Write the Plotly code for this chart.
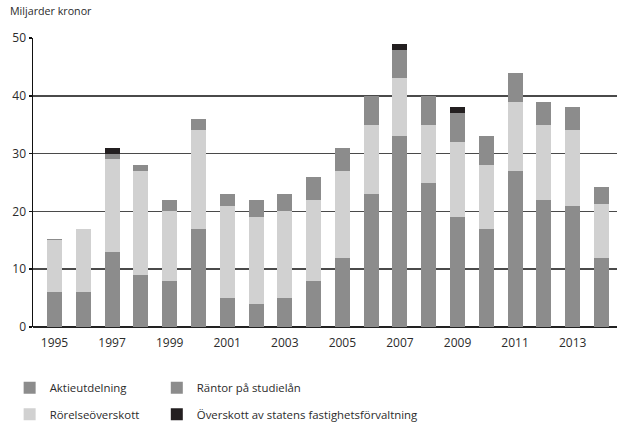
import plotly.graph_objects as go

years = list(range(1995, 2015))
aktieutdelning = [6, 6, 13, 9, 8, 17, 5, 4, 5, 8, 12, 23, 33, 25, 19, 17, 27, 22, 21, 12]
rorelseoverskott = [9, 11, 16, 18, 12, 17, 16, 15, 15, 14, 15, 12, 10, 10, 13, 11, 12, 13, 13, 9.3]
rantor = [0.2, 0, 1, 1, 2, 2, 2, 3, 3, 4, 4, 5, 5, 5, 5, 5, 5, 4, 4, 2.9]
fastighet = [0, 0, 1, 0, 0, 0, 0, 0, 0, 0, 0, 0, 1, 0, 1, 0, 0, 0, 0, 0]
tick_years = [1995, 1997, 1999, 2001, 2003, 2005, 2007, 2009, 2011, 2013]

FONT = "Open Sans"
TXT = "#2b2b2b"

series = [
    ("Aktieutdelning", aktieutdelning, "#8c8c8c", "legend"),
    ("Rörelseöverskott", rorelseoverskott, "#d1d1d1", "legend"),
    ("Räntor på studielån", rantor, "#8c8c8c", "legend2"),
    ("Överskott av statens fastighetsförvaltning", fastighet, "#231f20", "legend2"),
]

fig = go.Figure()
for i, (name, vals, col, lg) in enumerate(series):
    fig.add_trace(go.Bar(
        x=years, y=vals, name=name, marker=dict(color=col, line=dict(width=0)),
        width=0.52, legend=lg, legendgroup=f"g{i}",
    ))

legend_common = dict(
    orientation="v", font=dict(family=FONT, size=11.4, color=TXT),
    bgcolor="rgba(0,0,0,0)", tracegroupgap=7.5, itemclick=False,
    yanchor="top", xanchor="left",
)

fig.update_layout(
    barmode="stack",
    width=617, height=422,
    margin=dict(l=33, r=0, t=38, b=95, autoexpand=False),
    plot_bgcolor="white", paper_bgcolor="white",
    font=dict(family=FONT, size=12, color=TXT),
    bargap=0,
    legend=dict(x=-0.04, y=-0.16, **legend_common),
    legend2=dict(x=0.212, y=-0.16, **legend_common),
    xaxis=dict(
        range=[1994.253, 2014.54], tickmode="array", tickvals=tick_years,
        ticktext=[str(t) for t in tick_years], showgrid=False, zeroline=False,
        showline=False, ticks="", tickfont=dict(family=FONT, size=12, color=TXT),
        ticklabelstandoff=7, automargin=False,
    ),
    yaxis=dict(
        range=[0, 50], tickvals=[0, 10, 20, 30, 40, 50], showgrid=True,
        gridcolor="#4a4a4a", gridwidth=1.5, zeroline=True, zerolinecolor="#222",
        zerolinewidth=1.5, showline=True, linecolor="#111", linewidth=1.5,
        ticks="outside", ticklen=3, tickcolor="#111", tickwidth=1.5,
        tickfont=dict(family=FONT, size=12, color=TXT), fixedrange=True,
        automargin=False,
    ),
    annotations=[dict(
        text="Miljarder kronor", xref="paper", yref="paper", x=-0.043, y=1.093,
        xanchor="left", yanchor="middle", showarrow=False,
        font=dict(family=FONT, size=10.7, color=TXT),
    )],
)

fig.write_html(
    "out.html",
    config={"displayModeBar": False, "staticPlot": True},
    post_script="document.body.style.margin='0';document.body.style.overflow='hidden';",
)
